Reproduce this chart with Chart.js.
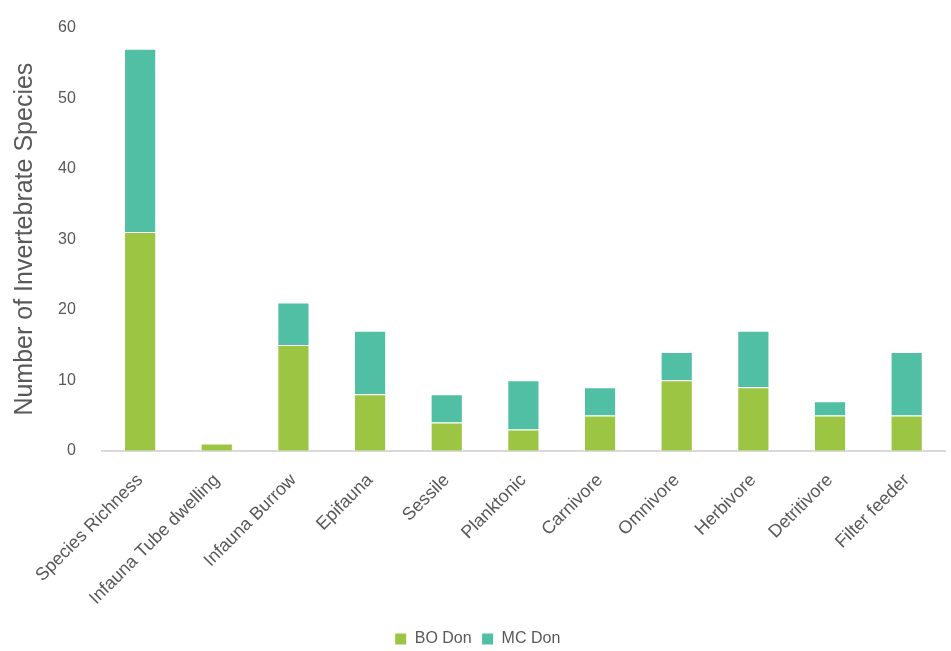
<!DOCTYPE html>
<html>
<head>
<meta charset="utf-8">
<script src="https://cdn.jsdelivr.net/npm/chart.js@4"></script>
<style>
  html, body { margin: 0; padding: 0; background: #fff; }
  #wrap { width: 951px; height: 651px; position: relative; }
</style>
</head>
<body>
<div id="wrap"><canvas id="myChart"></canvas></div>
<script>
const categories = ['Species Richness', 'Infauna Tube dwelling', 'Infauna Burrow', 'Epifauna', 'Sessile',
  'Planktonic', 'Carnivore', 'Omnivore', 'Herbivore', 'Detritivore', 'Filter feeder'];
const boDon = [31, 1, 15, 8, 4, 3, 5, 10, 9, 5, 5];
const mcDon = [26, 0, 6, 9, 4, 7, 4, 4, 8, 2, 9];
const yTicks = [0, 10, 20, 30, 40, 50, 60];

Chart.defaults.font.family = "'Liberation Sans', Arial, sans-serif";
Chart.defaults.color = '#595959';

new Chart(document.getElementById('myChart'), {
  type: 'bar',
  data: {
    labels: categories,
    datasets: [
      { label: 'BO Don', data: boDon, backgroundColor: '#9dc544', borderColor: '#ffffff', borderWidth: 1 },
      { label: 'MC Don', data: mcDon, backgroundColor: '#50bfa3', borderColor: '#ffffff', borderWidth: 1 },
    ],
  },
  options: {
    responsive: true,
    maintainAspectRatio: false,
    animation: false,
    layout: { autoPadding: false, padding: { left: 10, right: 6, top: 4, bottom: -6 } },
    datasets: { bar: { categoryPercentage: 1, barPercentage: 0.42 } },
    plugins: {
      tooltip: { enabled: false },
      legend: {
        position: 'bottom',
        labels: { boxWidth: 12, boxHeight: 12, padding: 10, font: { size: 16 }, color: '#595959' },
      },
    },
    scales: {
      x: {
        stacked: true,
        grid: { display: false },
        border: { display: true, color: '#d9d9d9', width: 2 },
        ticks: { minRotation: 45, maxRotation: 45, font: { size: 18 }, color: '#595959', padding: 11 },
        afterFit: (axis) => { axis.height += 1; },
      },
      y: {
        stacked: true,
        min: 0,
        max: 60,
        afterBuildTicks: (axis) => { axis.ticks = yTicks.map((v) => ({ value: v })); },
        grid: { display: false },
        border: { display: false },
        ticks: { font: { size: 16 }, color: '#595959', padding: 18 },
        title: { display: true, text: 'Number of Invertebrate Species', font: { size: 25 }, color: '#595959', padding: 0 },
      },
    },
  },
});
</script>
</body>
</html>
